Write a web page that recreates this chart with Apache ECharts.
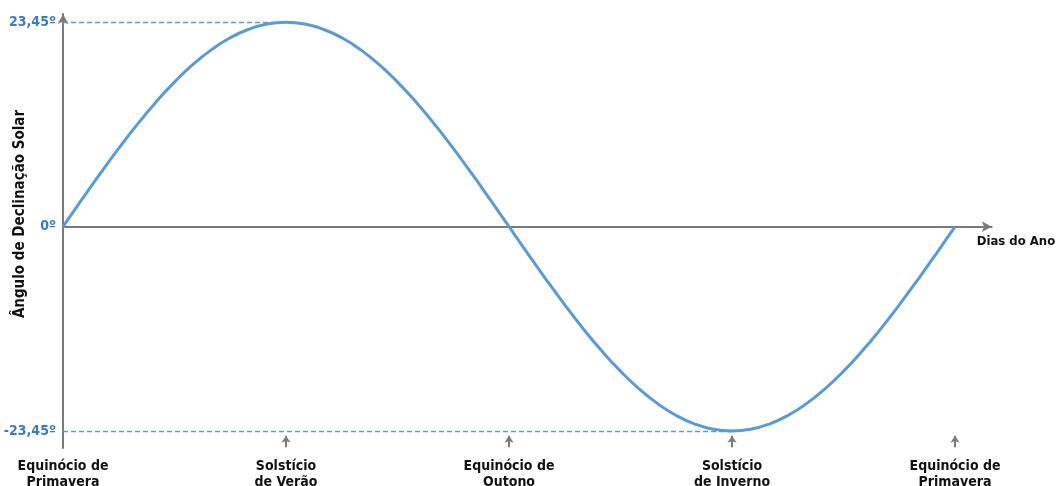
<!DOCTYPE html>
<html><head><meta charset="utf-8">
<script src="https://cdn.jsdelivr.net/npm/echarts@6/dist/echarts.min.js"></script>
<style>html,body{margin:0;padding:0;background:#fff}#c{width:1059px;height:486px}</style>
</head><body><div id="c"></div>
<script>
// Days of the year (x) and solar declination in degrees (y)
const days = [0,7.6,15.2,22.8,30.4,38,45.6,53.2,60.8,68.4,76,83.6,91.25,98.9,106.5,114.1,121.7,129.3,136.9,144.5,152.1,159.7,167.3,174.9,182.5,190.1,197.7,205.3,212.9,220.5,228.1,235.7,243.3,250.9,258.5,266.1,273.75,281.4,289,296.6,304.2,311.8,319.4,327,334.6,342.2,349.8,357.4,365];
const declination = [0,3.06,6.07,8.97,11.73,14.28,16.58,18.61,20.31,21.67,22.65,23.25,23.45,23.25,22.65,21.67,20.31,18.61,16.58,14.28,11.73,8.97,6.07,3.06,0,-3.06,-6.07,-8.97,-11.73,-14.28,-16.58,-18.61,-20.31,-21.67,-22.65,-23.25,-23.45,-23.25,-22.65,-21.67,-20.31,-18.61,-16.58,-14.28,-11.73,-8.97,-6.07,-3.06,0];
const yTickValues = [-23.45, 0, 23.45];
const yTickLabels = ['-23,45º', '0º', '23,45º'];
const eventDays = [0, 91.25, 182.5, 273.75, 365];
const eventLabels = ['Equinócio de\nPrimavera', 'Solstício\nde Verão', 'Equinócio de\nOutono', 'Solstício\nde Inverno', 'Equinócio de\nPrimavera'];
const peakDay = 91.25, troughDay = 273.75, maxDecl = 23.45;

const axisGray = '#7a7a7a';
const blue = '#5b9bd5';
const chart = echarts.init(document.getElementById('c'), null, {renderer:'canvas'});
const font = '"DejaVu Sans Condensed","DejaVu Sans",sans-serif';

const arrowData = eventDays.slice(1).map(d => [{coord:[d,-25.3]},{coord:[d,-24.0]}]);

chart.setOption({
  animation:false,
  grid:{left:63, top:14, width:928.7, height:434, containLabel:false, outerBoundsMode:'none'},
  xAxis:[{
    type:'value', min:0, max:380,
    axisLine:{onZero:true, lineStyle:{color:axisGray, width:2}, symbol:['none','arrow'], symbolSize:[8,10]},
    axisTick:{show:false}, axisLabel:{show:false}, splitLine:{show:false},
    name:'Dias do Ano', nameLocation:'end', nameGap:-15, nameMoveOverlap:false,
    nameTextStyle:{color:'#111', fontFamily:font, fontWeight:'bold', fontSize:13, align:'left', verticalAlign:'top', padding:[8,0,0,0]}
  },{
    type:'value', min:0, max:380, position:'bottom',
    axisLine:{show:false}, axisTick:{show:false}, splitLine:{show:false},
    axisLabel:{customValues:eventDays, margin:10, color:'#111', fontFamily:font, fontWeight:'bold', fontSize:14, lineHeight:16,
      formatter:(v)=>{const i=eventDays.indexOf(v); return i>=0?eventLabels[i]:'';}}
  }],
  yAxis:{
    type:'value', min:-25.4, max:24.4,
    axisLine:{onZero:false, lineStyle:{color:axisGray, width:2}, symbol:['none','arrow'], symbolSize:[8,10]},
    axisTick:{show:false}, splitLine:{show:false},
    axisLabel:{customValues:yTickValues, margin:7, color:'#3a7cc2', fontFamily:font, fontSize:14, fontWeight:'bold',
      formatter:(v)=>{const i=yTickValues.indexOf(v); return i>=0?yTickLabels[i]:'';}},
    name:'Ângulo de Declinação Solar', nameLocation:'middle', nameGap:35, nameMoveOverlap:false,
    nameTextStyle:{color:'#111', fontFamily:font, fontWeight:'bold', fontSize:15, padding:[0,0,0,34]}
  },
  series:[{
    type:'line', xAxisIndex:0, data:days.map((d,i)=>[d,declination[i]]),
    smooth:true, showSymbol:false, lineStyle:{color:blue, width:3}, z:3,
    markLine:{silent:true, symbol:'none', label:{show:false},
      lineStyle:{color:blue, type:[5,3], width:1.4, opacity:1},
      data:[[{coord:[0,maxDecl]},{coord:[peakDay,maxDecl]}],[{coord:[0,-maxDecl]},{coord:[troughDay,-maxDecl]}]]}
  },{
    type:'line', xAxisIndex:0, data:[], 
    markLine:{silent:true, symbol:['none','arrow'], symbolSize:[7,7], label:{show:false},
      lineStyle:{color:axisGray, type:'solid', width:2}, data:arrowData}
  }]
});
</script></body></html>
